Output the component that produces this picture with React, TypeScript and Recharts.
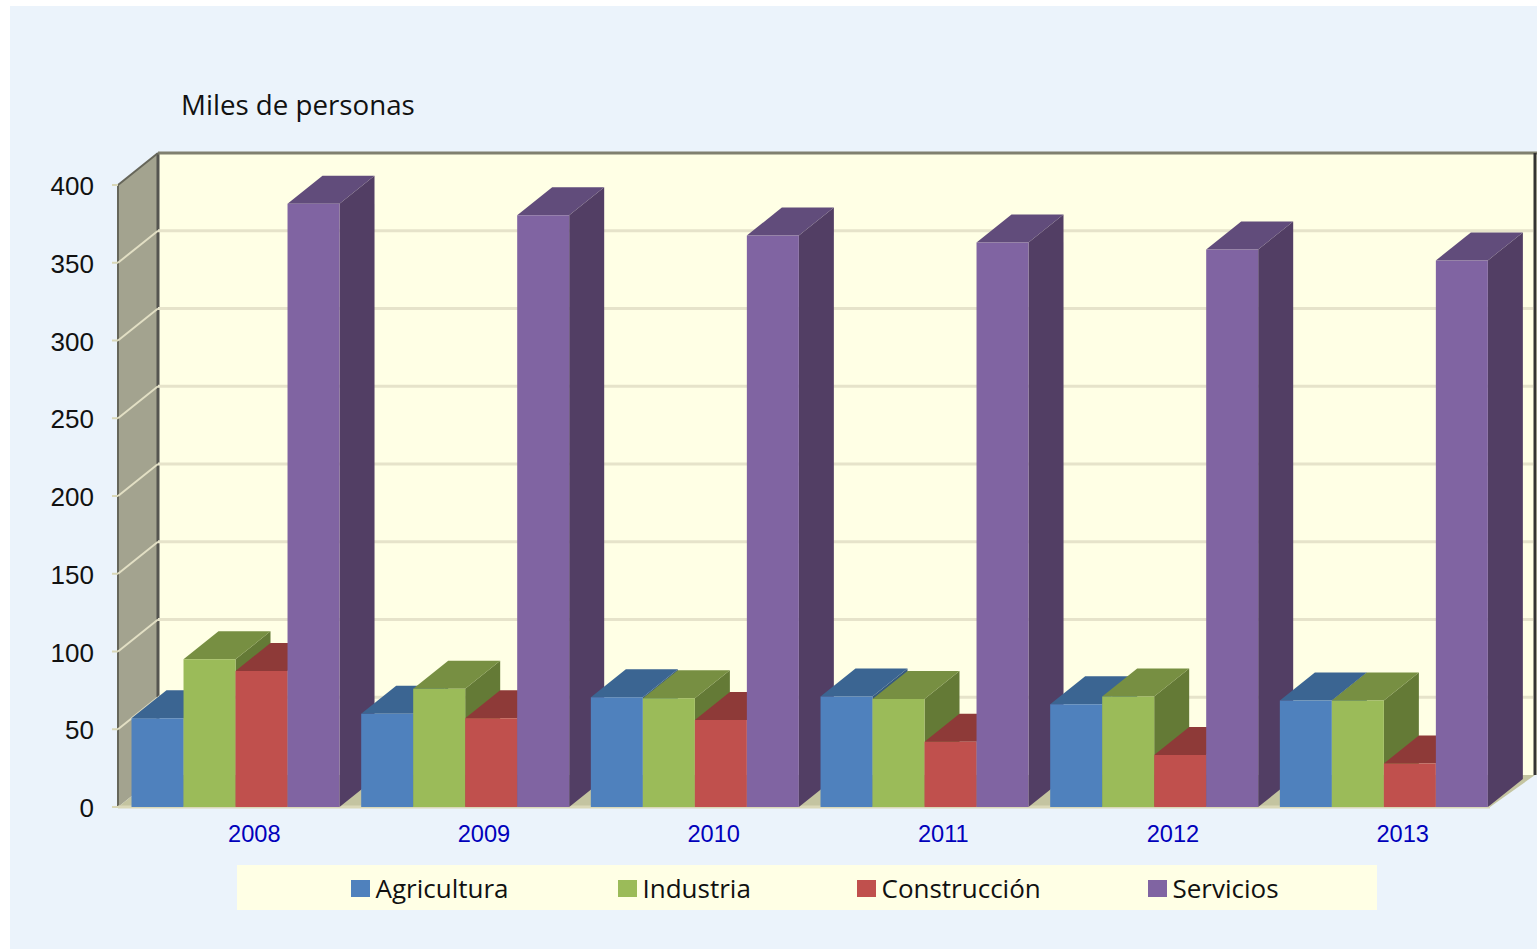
import { Bar, BarChart, CartesianGrid, Legend, ReferenceArea, XAxis, YAxis } from "recharts";

const years = ["2008", "2009", "2010", "2011", "2012", "2013"];
const agricultura = [57, 60, 70.5, 71, 66, 68.5];
const industria = [95, 76, 70, 69.5, 71, 68.5];
const construccion = [87.5, 57, 56, 42, 33.5, 28];
const servicios = [388, 380.5, 367.5, 363, 358.5, 351.5];
const yTicks = [0, 50, 100, 150, 200, 250, 300, 350, 400];

const series = [
  { key: "Agricultura", front: "#4F81BD", top: "#3B6592", side: "#35597F" },
  { key: "Industria", front: "#9BBB59", top: "#778F42", side: "#647A36" },
  { key: "Construcción", front: "#C0504D", top: "#8E3A38", side: "#7E3331" },
  { key: "Servicios", front: "#8064A2", top: "#614C7B", side: "#523E64" },
];

const data = years.map((year, i) => ({
  year,
  Agricultura: agricultura[i],
  Industria: industria[i],
  Construcción: construccion[i],
  Servicios: servicios[i],
}));

// offset of the bars' back face, and of the walls
const barDx = 35;
const barDy = -28;
const wallDx = 40;
const wallDy = -32;

const pts = (list: number[][]) => list.map((p) => p.join(",")).join(" ");

const Walls = (props: any) => {
  const { x, y, height } = props;
  const left = 118;
  const bottom = y + height;
  const backX = left + wallDx;
  return (
    <g>
      <polygon
        points={pts([[left, y], [backX, y + wallDy], [backX, bottom + wallDy], [left, bottom]])}
        fill="#A3A38F"
      />
      <rect x={backX} y={y + wallDy} width={1537 - backX} height={height} fill="#FFFFE5" />
      <polygon
        points={pts([[left, bottom], [backX, bottom + wallDy], [1535, bottom + wallDy], [1490, bottom]])}
        fill="#C4C4A0"
      />
      <line x1={backX} x2={backX} y1={y + wallDy} y2={bottom + wallDy} stroke="#555550" strokeWidth={3} />
      <line x1={backX} x2={1537} y1={y + wallDy} y2={y + wallDy} stroke="#80806F" strokeWidth={3} />
      <line x1={left} x2={backX} y1={y} y2={y + wallDy} stroke="#66665A" strokeWidth={2} />
      <line x1={left} x2={left} y1={y} y2={bottom} stroke="#66665A" strokeWidth={2} />
      <line x1={left} x2={1490} y1={bottom} y2={bottom} stroke="#DAD8B8" strokeWidth={3} />
      <line x1={1535} x2={1535} y1={y + wallDy} y2={bottom + wallDy} stroke="#333" strokeWidth={3} />
    </g>
  );
};

const gridLine = (props: any) => {
  const { y1 } = props;
  const left = 118;
  const backX = left + wallDx;
  const backY = y1 + wallDy;
  // the top one is the wall's own edge, the bottom one meets the floor
  if (props.index === 0 || y1 <= 186) return <g key={y1} />;
  return (
    <g key={y1}>
      <line x1={left} y1={y1} x2={backX} y2={backY} stroke="#E2DFC4" strokeWidth={2} />
      <line x1={backX} y1={backY} x2={1533} y2={backY} stroke="#E6E3CA" strokeWidth={3} />
    </g>
  );
};

const YTick = (props: any) => {
  const { y, payload } = props;
  return (
    <g>
      <line x1={112} x2={118} y1={y} y2={y} stroke="#DAD8B8" strokeWidth={2} />
      <text x={94} y={y} dy={10} textAnchor="end" fontFamily="Liberation Sans" fontSize={26} fill="#111">
        {payload.value}
      </text>
    </g>
  );
};

const XTick = (props: any) => {
  const { x, payload } = props;
  return (
    <text x={x + 19} y={842} textAnchor="middle" fontFamily="Liberation Sans" fontSize={23.6} fill="#0000BB">
      {payload.value}
    </text>
  );
};

const depthShape = (s: (typeof series)[number], visible: boolean) => (props: any) => {
  if (!visible) return <g />;
  const { x, y, width, height } = props;
  const r = x + width;
  const b = y + height;
  return (
    <g>
      <polygon points={pts([[r, y], [r + barDx, y + barDy], [r + barDx, b + barDy], [r, b]])} fill={s.side} />
      <polygon points={pts([[x, y], [x + barDx, y + barDy], [r + barDx, y + barDy], [r, y]])} fill={s.top} />
    </g>
  );
};

const legendSpots = [351, 618, 857, 1148];

const LegendBox = () => (
  <div style={{ position: "relative", width: 1140, height: 45, background: "#FFFFE5" }}>
    {series.map((s, i) => (
      <div key={s.key}>
        <div
          style={{
            position: "absolute",
            left: legendSpots[i] - 237,
            top: 15,
            width: 19,
            height: 17,
            background: s.front,
          }}
        />
        <div
          style={{
            position: "absolute",
            left: legendSpots[i] - 237 + 24.5,
            top: 6,
            fontFamily: "Open Sans",
            fontSize: 26,
            lineHeight: "35px",
            color: "#111",
            whiteSpace: "nowrap",
          }}
        >
          {s.key}
        </div>
      </div>
    ))}
  </div>
);

export default function App() {
  // every bar is painted in three layers so the boxes overlap the right way:
  // purple depth, then the other depths, then all the front faces
  return (
    <div style={{ position: "absolute", left: 0, top: 0, width: 1537, height: 950, background: "#FFFFFF", overflow: "hidden" }}>
      <div style={{ position: "absolute", left: 10, top: 6, width: 1527, height: 943, background: "#EBF3FB" }} />
      <div
        style={{
          position: "absolute",
          left: 181,
          top: 86,
          fontFamily: "Open Sans",
          fontSize: 27.7,
          lineHeight: "36px",
          color: "#111",
          whiteSpace: "nowrap",
        }}
      >
        Miles de personas
      </div>
      <div style={{ position: "absolute", left: 0, top: 0 }}>
        <BarChart
          width={1537}
          height={950}
          data={data}
          margin={{ top: 185, right: 38.5, bottom: 68, left: 60.5 }}
          barCategoryGap="4.8%"
          barGap={0}
        >
          <XAxis xAxisId="front" dataKey="year" height={30} axisLine={false} tickLine={false} tick={XTick} interval={0} />
          <XAxis xAxisId="far" dataKey="year" hide />
          <XAxis xAxisId="near" dataKey="year" hide />
          <YAxis width={60} domain={[0, 400]} ticks={yTicks} axisLine={false} tickLine={false} tick={YTick} interval={0} />
          <ReferenceArea xAxisId="front" y1={0} y2={400} shape={Walls} zIndex={-200} />
          <CartesianGrid xAxisId="front" vertical={false} horizontal={gridLine} />
          {series.map((s) => (
            <Bar
              key={`far-${s.key}`}
              xAxisId="far"
              dataKey={s.key}
              legendType="none"
              shape={depthShape(s, s.key === "Servicios")}
              isAnimationActive={false}
            />
          ))}
          {series.map((s) => (
            <Bar
              key={`near-${s.key}`}
              xAxisId="near"
              dataKey={s.key}
              legendType="none"
              shape={depthShape(s, s.key !== "Servicios")}
              isAnimationActive={false}
            />
          ))}
          {series.map((s) => (
            <Bar key={s.key} xAxisId="front" dataKey={s.key} fill={s.front} isAnimationActive={false} />
          ))}
          <Legend
            content={LegendBox}
            wrapperStyle={{ left: 237, top: 865, width: 1140, height: 45, bottom: "auto" }}
          />
        </BarChart>
      </div>
    </div>
  );
}
